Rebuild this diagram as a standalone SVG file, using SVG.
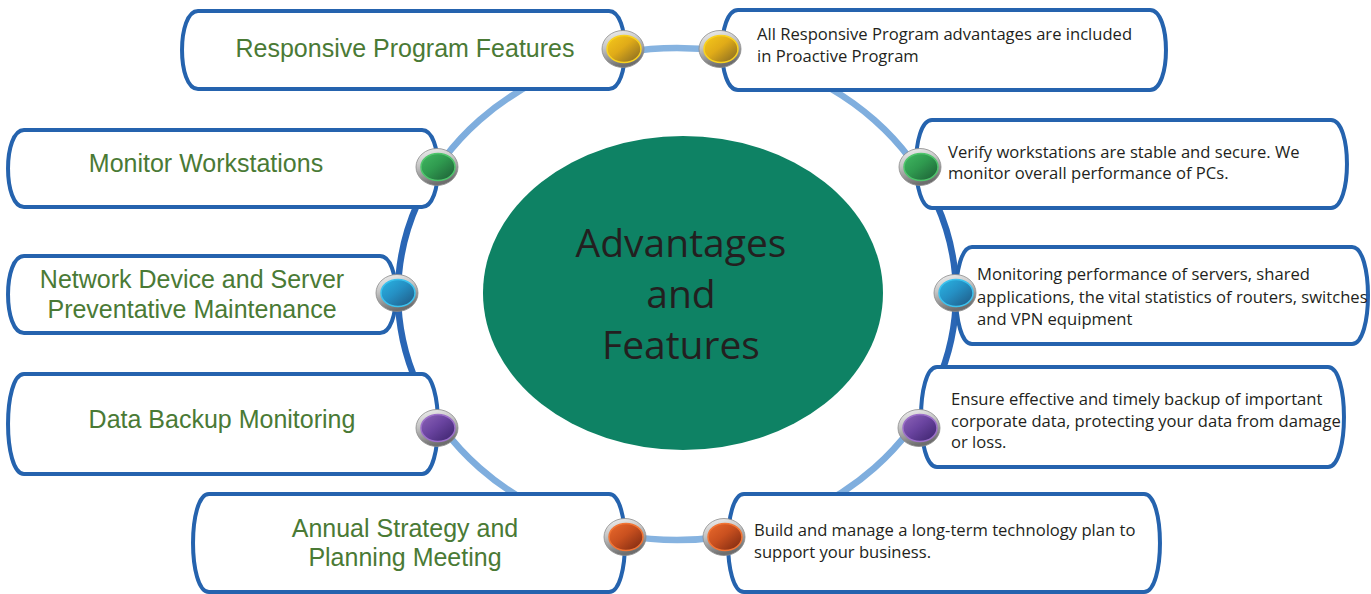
<svg xmlns="http://www.w3.org/2000/svg" width="1371" height="594" viewBox="0 0 1371 594">
<style>
.box{fill:#fff;stroke:#2563ae;stroke-width:4}
.lt{font-family:"Liberation Sans",Arial,sans-serif;font-size:25px;fill:#4a7a35;text-anchor:middle}
.rt{font-family:"Open Sans","Noto Sans",sans-serif;font-size:16.6px;fill:#231f20}
.ct{font-family:"Open Sans","Noto Sans",sans-serif;font-size:39px;fill:#231f20;text-anchor:middle}
.silver{fill:url(#gSilver);stroke:#8a8a8a;stroke-width:0.8}
</style>
<defs>
<linearGradient id="gRing" x1="0" y1="48" x2="0" y2="540" gradientUnits="userSpaceOnUse">
<stop offset="0" stop-color="#86b3e0"/>
<stop offset="0.26" stop-color="#7aaadc"/>
<stop offset="0.33" stop-color="#2a66b5"/>
<stop offset="0.68" stop-color="#2a66b5"/>
<stop offset="0.76" stop-color="#7aaadc"/>
<stop offset="1" stop-color="#86b3e0"/>
</linearGradient>
<linearGradient id="gSilver" x1="0" y1="0" x2="0.3" y2="1">
<stop offset="0" stop-color="#f4f4f4"/>
<stop offset="0.45" stop-color="#c4c4c4"/>
<stop offset="1" stop-color="#6e6e6e"/>
</linearGradient>
<linearGradient id="gY" x1="0" y1="0" x2="1" y2="1"><stop offset="0" stop-color="#f6c91b"/><stop offset="0.45" stop-color="#e0ab18"/><stop offset="1" stop-color="#7e6424"/></linearGradient>
<linearGradient id="gG" x1="0" y1="0" x2="1" y2="1"><stop offset="0" stop-color="#42b862"/><stop offset="0.45" stop-color="#2f9a4f"/><stop offset="1" stop-color="#1c5a34"/></linearGradient>
<linearGradient id="gB" x1="0" y1="0" x2="1" y2="1"><stop offset="0" stop-color="#2ab5e4"/><stop offset="0.45" stop-color="#2590c4"/><stop offset="1" stop-color="#1f5680"/></linearGradient>
<linearGradient id="gP" x1="0" y1="0" x2="1" y2="1"><stop offset="0" stop-color="#8e65b8"/><stop offset="0.45" stop-color="#6a44a0"/><stop offset="1" stop-color="#3a226a"/></linearGradient>
<linearGradient id="gO" x1="0" y1="0" x2="1" y2="1"><stop offset="0" stop-color="#ea6a2c"/><stop offset="0.45" stop-color="#c9501f"/><stop offset="1" stop-color="#762610"/></linearGradient>
<g id="bulY"><ellipse class="silver" cx="0" cy="0" rx="21" ry="18.5"/><ellipse cx="1" cy="0" rx="17" ry="13.5" fill="url(#gY)" stroke="#f8d220" stroke-width="1.5"/></g>
<g id="bulG"><ellipse class="silver" cx="0" cy="0" rx="21" ry="18.5"/><ellipse cx="1" cy="0" rx="17" ry="13.5" fill="url(#gG)" stroke="#4fc56c" stroke-width="1.5"/></g>
<g id="bulB"><ellipse class="silver" cx="0" cy="0" rx="21" ry="18.5"/><ellipse cx="1" cy="0" rx="17" ry="13.5" fill="url(#gB)" stroke="#3cc2ee" stroke-width="1.5"/></g>
<g id="bulP"><ellipse class="silver" cx="0" cy="0" rx="21" ry="18.5"/><ellipse cx="1" cy="0" rx="17" ry="13.5" fill="url(#gP)" stroke="#9c70c9" stroke-width="1.5"/></g>
<g id="bulO"><ellipse class="silver" cx="0" cy="0" rx="21" ry="18.5"/><ellipse cx="1" cy="0" rx="17" ry="13.5" fill="url(#gO)" stroke="#f27434" stroke-width="1.5"/></g>
</defs>
<rect width="1371" height="594" fill="#fff"/>
<g id="connectors">
<ellipse cx="677" cy="294" rx="279" ry="246" fill="none" stroke="url(#gRing)" stroke-width="6.5"/>
</g>
<g id="center">
<ellipse cx="683" cy="293" rx="200" ry="157" fill="#0e8264"/>
<text class="ct" x="681" y="257">Advantages</text>
<text class="ct" x="681" y="308">and</text>
<text class="ct" x="681" y="359">Features</text>
</g>
<g id="left1">
<path class="box" d="M198,11 H609 C630.3,11 630.3,89 609,89 H198 C176.7,89 176.7,11 198,11 Z"/>
<text class="lt" x="405" y="57">Responsive Program Features</text>
</g>
<g id="left2">
<path class="box" d="M24,130 H422 C443.3,130 443.3,207 422,207 H24 C2.7,207 2.7,130 24,130 Z"/>
<text class="lt" x="206" y="172">Monitor Workstations</text>
</g>
<g id="left3">
<path class="box" d="M24,256 H380 C401.3,256 401.3,333 380,333 H24 C2.7,333 2.7,256 24,256 Z"/>
<text class="lt" x="192" y="288">Network Device and Server</text>
<text class="lt" x="192" y="318">Preventative Maintenance</text>
</g>
<g id="left4">
<path class="box" d="M24,374 H422 C443.3,374 443.3,474 422,474 H24 C2.7,474 2.7,374 24,374 Z"/>
<text class="lt" x="222" y="428">Data Backup Monitoring</text>
</g>
<g id="left5">
<path class="box" d="M209,494 H609 C630.3,494 630.3,592 609,592 H209 C187.7,592 187.7,494 209,494 Z"/>
<text class="lt" x="405" y="537">Annual Strategy and</text>
<text class="lt" x="405" y="566">Planning Meeting</text>
</g>
<g id="right1">
<path class="box" d="M738,10 H1150 C1171.3,10 1171.3,90 1150,90 H738 C716.7,90 716.7,10 738,10 Z"/>
<text class="rt" x="757" y="40">All Responsive Program advantages are included</text>
<text class="rt" x="757" y="62">in Proactive Program</text>
</g>
<g id="right2">
<path class="box" d="M932,120 H1331 C1352.3,120 1352.3,208 1331,208 H932 C910.7,208 910.7,120 932,120 Z"/>
<text class="rt" x="948" y="158">Verify workstations are stable and secure. We</text>
<text class="rt" x="948" y="179">monitor overall performance of PCs.</text>
</g>
<g id="right3">
<path class="box" d="M972,247 H1352 C1373.3,247 1373.3,344 1352,344 H972 C950.7,344 950.7,247 972,247 Z"/>
<text class="rt" x="977" y="280">Monitoring performance of servers, shared</text>
<text class="rt" x="977" y="303">applications, the vital statistics of routers, switches</text>
<text class="rt" x="977" y="325">and VPN equipment</text>
</g>
<g id="right4">
<path class="box" d="M937,367 H1328 C1349.3,367 1349.3,467 1328,467 H937 C915.7,467 915.7,367 937,367 Z"/>
<text class="rt" x="951" y="405">Ensure effective and timely backup of important</text>
<text class="rt" x="951" y="427">corporate data, protecting your data from damage</text>
<text class="rt" x="951" y="448">or loss.</text>
</g>
<g id="right5">
<path class="box" d="M744,494 H1144 C1165.3,494 1165.3,592 1144,592 H744 C722.7,592 722.7,494 744,494 Z"/>
<text class="rt" x="754" y="536">Build and manage a long-term technology plan to</text>
<text class="rt" x="754" y="558">support your business.</text>
</g>
<g id="bullets">
<use href="#bulY" x="623" y="49"/>
<use href="#bulY" x="720" y="49"/>
<use href="#bulG" x="437" y="167"/>
<use href="#bulG" x="920" y="167"/>
<use href="#bulB" x="397" y="293"/>
<use href="#bulB" x="955" y="293"/>
<use href="#bulP" x="437" y="428"/>
<use href="#bulP" x="919" y="428"/>
<use href="#bulO" x="625" y="537"/>
<use href="#bulO" x="724" y="537"/>
</g>
</svg>
